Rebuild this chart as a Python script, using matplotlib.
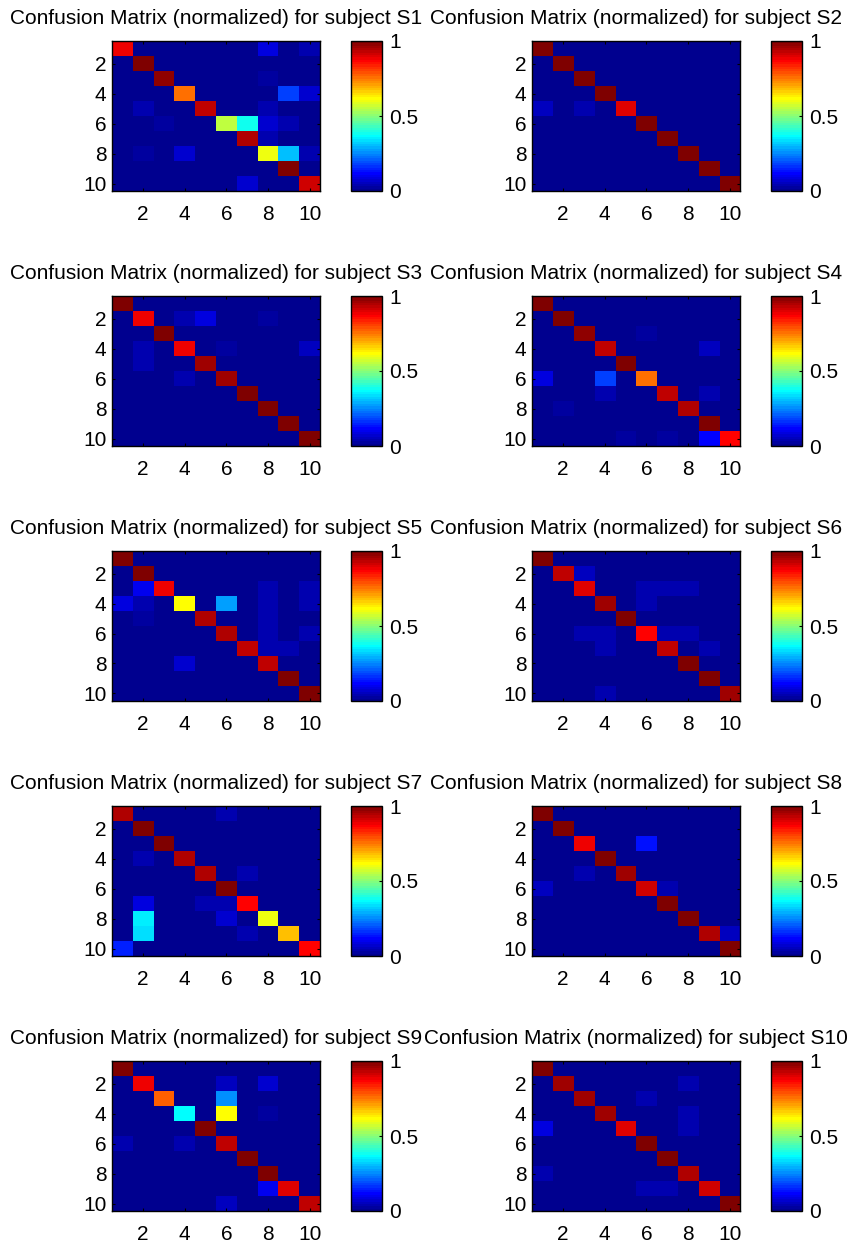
import numpy as np
import matplotlib
matplotlib.use("Agg")
import matplotlib.pyplot as plt
from matplotlib.colors import LinearSegmentedColormap

plt.rcParams['font.family'] = ['Liberation Sans', 'DejaVu Sans']

subjects = ["S1", "S2", "S3", "S4", "S5", "S6", "S7", "S8", "S9", "S10"]
n_classes = 10
tick_vals = [2, 4, 6, 8, 10]

# off-diagonal entries: (true row, predicted col, value), 1-based
diag_S1 = [0.88, 1.0, 0.97, 0.75, 0.93, 0.55, 0.95, 0.60, 1.0, 0.92]
off_S1 = [(1, 8, 0.08), (1, 10, 0.04), (3, 8, 0.03), (4, 9, 0.18), (4, 10, 0.07),
          (5, 2, 0.04), (5, 8, 0.04), (6, 3, 0.03), (6, 7, 0.38), (6, 8, 0.07),
          (6, 9, 0.04), (7, 8, 0.04), (8, 2, 0.03), (8, 4, 0.07), (8, 9, 0.30),
          (8, 10, 0.04), (10, 7, 0.07)]

diag_S2 = [1.0, 1.0, 1.0, 1.0, 0.90, 1.0, 1.0, 1.0, 1.0, 1.0]
off_S2 = [(5, 1, 0.05), (5, 3, 0.04)]

diag_S3 = [1.0, 0.88, 1.0, 0.88, 0.96, 0.96, 1.0, 1.0, 1.0, 1.0]
off_S3 = [(2, 4, 0.04), (2, 5, 0.08), (2, 8, 0.03), (4, 2, 0.04), (4, 6, 0.03),
          (4, 10, 0.06), (5, 2, 0.04), (6, 4, 0.04)]

diag_S4 = [1.0, 1.0, 0.97, 0.93, 1.0, 0.75, 0.93, 0.95, 1.0, 0.86]
off_S4 = [(3, 6, 0.03), (4, 9, 0.06), (6, 1, 0.08), (6, 4, 0.18), (7, 4, 0.04),
          (7, 9, 0.04), (8, 2, 0.03), (10, 5, 0.03), (10, 7, 0.03), (10, 9, 0.12)]

diag_S5 = [1.0, 1.0, 0.88, 0.62, 0.95, 0.95, 0.93, 0.93, 1.0, 1.0]
off_S5 = [(3, 2, 0.10), (3, 8, 0.04), (3, 10, 0.04), (4, 1, 0.08), (4, 2, 0.04),
          (4, 6, 0.28), (4, 8, 0.04), (4, 10, 0.04), (5, 2, 0.03), (5, 8, 0.04),
          (6, 8, 0.04), (6, 10, 0.04), (7, 8, 0.04), (7, 9, 0.04), (8, 4, 0.07)]

diag_S6 = [1.0, 0.93, 0.90, 0.96, 1.0, 0.87, 0.93, 1.0, 1.0, 0.96]
off_S6 = [(2, 3, 0.05), (3, 6, 0.04), (3, 7, 0.04), (3, 8, 0.04), (4, 6, 0.04),
          (6, 3, 0.04), (6, 4, 0.04), (6, 7, 0.04), (6, 8, 0.04), (7, 4, 0.04),
          (7, 9, 0.04), (10, 4, 0.04)]

diag_S7 = [0.95, 1.0, 1.0, 0.95, 0.95, 1.0, 0.87, 0.60, 0.68, 0.86]
off_S7 = [(1, 6, 0.04), (4, 2, 0.04), (5, 7, 0.04), (7, 2, 0.08), (7, 5, 0.04),
          (7, 6, 0.04), (8, 2, 0.35), (8, 6, 0.07), (9, 2, 0.33), (9, 7, 0.04),
          (10, 1, 0.15)]

diag_S8 = [1.0, 1.0, 0.88, 1.0, 0.96, 0.92, 1.0, 1.0, 0.94, 1.0]
off_S8 = [(3, 6, 0.13), (5, 3, 0.04), (6, 1, 0.05), (6, 7, 0.04), (9, 10, 0.05)]

diag_S9 = [1.0, 0.88, 0.78, 0.37, 1.0, 0.93, 1.0, 1.0, 0.90, 0.93]
off_S9 = [(2, 6, 0.06), (2, 8, 0.07), (3, 6, 0.25), (4, 6, 0.62), (4, 8, 0.03),
          (6, 1, 0.04), (6, 4, 0.04), (9, 8, 0.10), (10, 6, 0.06)]

diag_S10 = [1.0, 0.96, 0.96, 0.96, 0.90, 1.0, 1.0, 0.95, 0.92, 1.0]
off_S10 = [(2, 8, 0.04), (3, 6, 0.04), (4, 8, 0.04), (5, 1, 0.08), (5, 8, 0.04),
           (8, 1, 0.04), (9, 6, 0.04), (9, 7, 0.04)]

diags = [diag_S1, diag_S2, diag_S3, diag_S4, diag_S5,
         diag_S6, diag_S7, diag_S8, diag_S9, diag_S10]
offs = [off_S1, off_S2, off_S3, off_S4, off_S5,
        off_S6, off_S7, off_S8, off_S9, off_S10]


def build_matrix(diag, off):
    m = np.diag(np.array(diag, dtype=float))
    for r, c, v in off:
        m[r - 1, c - 1] = v
    return m


# MATLAB style jet colormap
cmap = LinearSegmentedColormap.from_list(
    "matlab_jet",
    [(0.0, (0, 0, 0.5625)), (7 / 63, (0, 0, 1)), (23 / 63, (0, 1, 1)),
     (39 / 63, (1, 1, 0)), (55 / 63, (1, 0, 0)), (1.0, (0.5, 0, 0))], N=64)

W, H = 848, 1242
fig = plt.figure(figsize=(W / 100, H / 100), dpi=100)

col_x = [112, 532]
cb_dx = 239
row_top = [41, 296, 551, 806, 1061]
ax_w, ax_h = 208, 150
cb_w = 31
fs = 15

for i, name in enumerate(subjects):
    r, c = divmod(i, 2)
    x0 = col_x[c]
    y0 = row_top[r]
    ax = fig.add_axes([x0 / W, 1 - (y0 + ax_h) / H, ax_w / W, ax_h / H])
    m = build_matrix(diags[i], offs[i])
    im = ax.imshow(m, cmap=cmap, vmin=0, vmax=1, aspect="auto",
                   interpolation="nearest",
                   extent=[0.5, n_classes + 0.5, n_classes + 0.5, 0.5])
    ax.set_xticks(tick_vals)
    ax.set_yticks(tick_vals)
    ax.tick_params(direction="in", top=True, right=True, labelsize=fs,
                   length=2.5, width=0.8)
    ax.tick_params(axis="x", pad=10)
    ax.tick_params(axis="y", pad=4)
    for s in ax.spines.values():
        s.set_linewidth(1.0)
    ax.set_title("Confusion Matrix (normalized) for subject " + name,
                 fontsize=fs, pad=12)

    cax = fig.add_axes([(x0 + cb_dx) / W, 1 - (y0 + ax_h) / H, cb_w / W, ax_h / H])
    cb = fig.colorbar(im, cax=cax, ticks=[0, 0.5, 1])
    cb.ax.set_yticklabels(["0", "0.5", "1"])
    cb.ax.tick_params(direction="in", labelsize=fs, length=2.5, width=0.8, pad=5)
    cb.outline.set_linewidth(1.0)

fig.savefig("out.png", dpi=100)
